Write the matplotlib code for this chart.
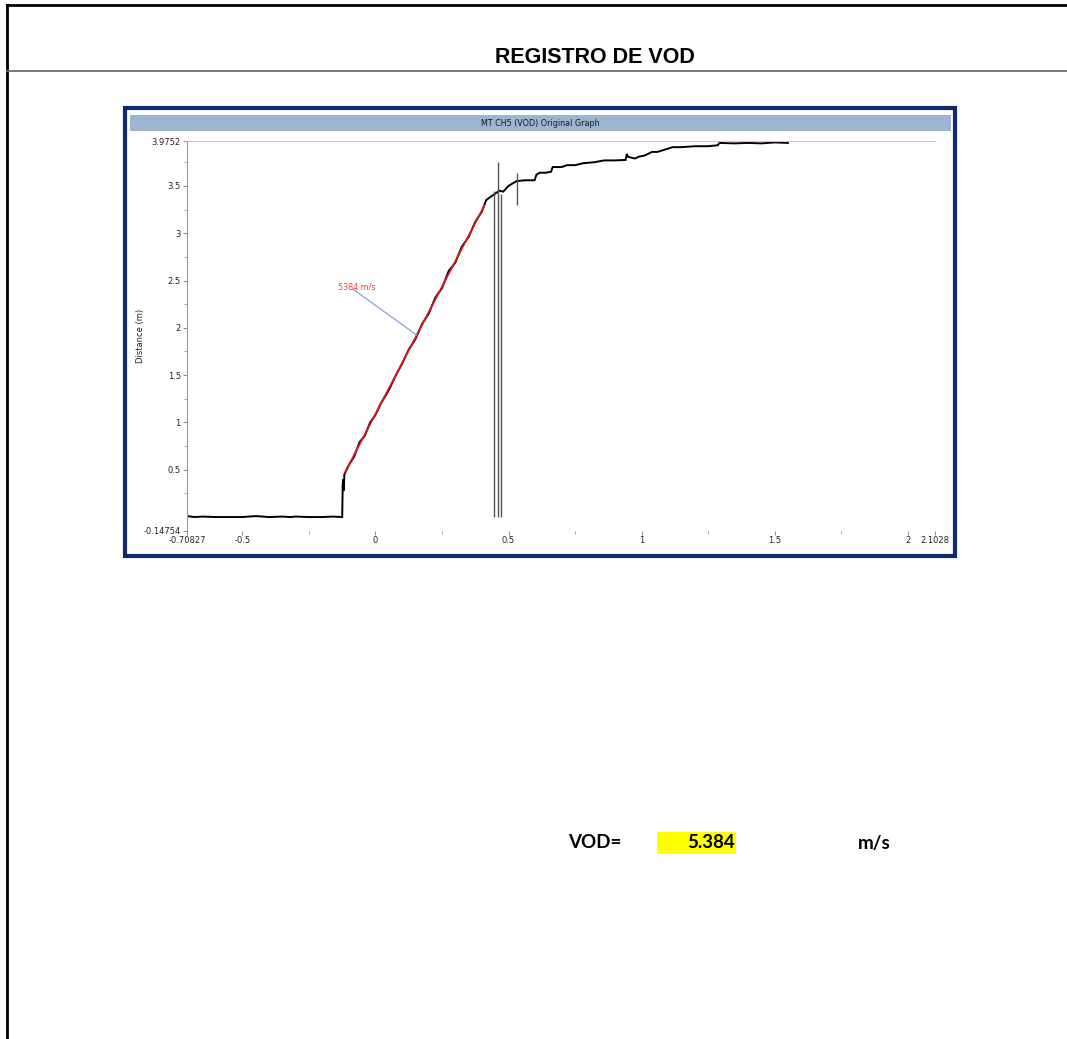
import matplotlib.pyplot as plt
from matplotlib.patches import Rectangle
from matplotlib.lines import Line2D
from matplotlib.ticker import FixedLocator

# trace read from the VOD recorder (time in ms, distance in m)
time_ms = [-0.708, -0.68, -0.65, -0.60, -0.55, -0.50, -0.45, -0.40, -0.35, -0.32,
           -0.30, -0.25, -0.20, -0.16, -0.125, -0.123, -0.121, -0.119, -0.117,
           -0.10, -0.08, -0.06, -0.04, -0.02, 0.0, 0.02, 0.05, 0.075, 0.10, 0.125,
           0.15, 0.175, 0.20, 0.225, 0.25, 0.275, 0.30, 0.325, 0.35, 0.375, 0.40,
           0.416, 0.43, 0.466, 0.48, 0.50, 0.529, 0.56, 0.598, 0.605, 0.617, 0.64,
           0.66, 0.666, 0.70, 0.72, 0.75, 0.78, 0.82, 0.86, 0.90, 0.94, 0.945,
           0.948, 0.96, 0.975, 0.99, 1.01, 1.04, 1.06, 1.117, 1.15, 1.20, 1.25,
           1.286, 1.293, 1.35, 1.40, 1.45, 1.50, 1.55]
dist_m = [0.01, 0.0, 0.005, 0.0, 0.0, 0.0, 0.01, 0.0, 0.005, 0.0,
          0.005, 0.0, 0.0, 0.005, 0.0, 0.35, 0.40, 0.28, 0.45,
          0.55, 0.64, 0.79, 0.86, 1.00, 1.08, 1.20, 1.34, 1.49, 1.62, 1.77,
          1.88, 2.04, 2.15, 2.32, 2.42, 2.60, 2.69, 2.86, 2.96, 3.12, 3.23,
          3.35, 3.38, 3.45, 3.44, 3.50, 3.55, 3.56, 3.56, 3.62, 3.64, 3.64,
          3.65, 3.70, 3.70, 3.72, 3.72, 3.74, 3.75, 3.77, 3.77, 3.775, 3.84,
          3.81, 3.80, 3.79, 3.81, 3.82, 3.86, 3.86, 3.91, 3.91, 3.92, 3.92,
          3.93, 3.955, 3.95, 3.955, 3.95, 3.96, 3.955]

# noise spikes on the trace
spike_t = [0.445, 0.460, 0.470, 0.533]
spike_lo = [0.0, 0.0, 0.0, 3.30]
spike_hi = [3.45, 3.75, 3.42, 3.64]

# VOD fit
vod = 5384  # m/s
fit_t0 = -0.2023
fit_start, fit_end = -0.115, 0.41

xmin, xmax = -0.70827, 2.1028
ymin, ymax = -0.14754, 3.9752
xticks = [-0.70827, -0.5, 0, 0.5, 1, 1.5, 2, 2.1028]
xtick_labels = ["-0.70827", "-0.5", "0", "0.5", "1", "1.5", "2", "2.1028"]
yticks = [-0.14754, 0.5, 1, 1.5, 2, 2.5, 3, 3.5, 3.9752]
ytick_labels = ["-0.14754", "0.5", "1", "1.5", "2", "2.5", "3", "3.5", "3.9752"]

W, H = 1067, 1039
fig = plt.figure(figsize=(W / 100, H / 100), dpi=100)


def fx(px):
    return px / W


def fy(py):
    return 1 - py / H


# page frame
fig.add_artist(Line2D([fx(7), fx(7)], [fy(5), 0], color="black", lw=2))
fig.add_artist(Line2D([fx(7), 1], [fy(5), fy(5)], color="black", lw=2))
fig.add_artist(Line2D([fx(7), 1], [fy(71), fy(71)], color="#6e6e6e", lw=1.3))
fig.text(fx(595), fy(63), "REGISTRO DE VOD", ha="center", va="baseline",
         fontsize=15.5, fontweight="bold", family="Liberation Sans")

# graph panel (kept behind the axes)
fig.add_artist(Rectangle((fx(125), fy(556)), fx(830), fy(108) - fy(556),
                         facecolor="white", edgecolor="#0d2a6b", lw=3, zorder=-5))
fig.add_artist(Rectangle((fx(130), fy(131)), fx(821), fy(115) - fy(131),
                         facecolor="#9db5d2", edgecolor="none", zorder=-4))
fig.text(fx(540), fy(123), "MT CH5 (VOD) Original Graph", ha="center", va="center",
         fontsize=5.8, color="#1a1a1a")

ax = fig.add_axes([fx(187), fy(531), fx(935 - 187), fy(141) - fy(531)])
ax.set_xlim(xmin, xmax)
ax.set_ylim(ymin, ymax)
ax.set_facecolor("none")

ax.plot(time_ms, dist_m, color="black", lw=1.4, solid_joinstyle="miter")
ax.vlines(spike_t, spike_lo, spike_hi, colors="#555555", lw=1.0)

fit_t = [fit_start, fit_end]
fit_d = [vod / 1000 * (t - fit_t0) for t in fit_t]
ax.plot(fit_t, fit_d, color="#e8141c", lw=1.2)

# label for the fit
lab_t = 0.155
ax.plot([-0.085, lab_t], [2.41, vod / 1000 * (lab_t - fit_t0)], color="#7c95e0", lw=0.8)
ax.text(-0.14, 2.43, f"{vod} m/s", color="#ff3b3b", fontsize=5.8, ha="left", va="center")

for side in ["right", "bottom"]:
    ax.spines[side].set_visible(False)
ax.spines["left"].set_color("#9a9a9a")
ax.spines["top"].set_color("#c8c8c8")
ax.spines["left"].set_linewidth(0.8)
ax.spines["top"].set_linewidth(0.8)

ax.set_xticks(xticks)
ax.set_xticklabels(xtick_labels)
ax.set_yticks(yticks)
ax.set_yticklabels(ytick_labels)
ax.xaxis.set_minor_locator(FixedLocator([-0.25, 0.25, 0.75, 1.25, 1.75]))
ax.yaxis.set_minor_locator(FixedLocator([0.25, 0.75, 1.25, 1.75, 2.25, 2.75, 3.25, 3.75]))
ax.tick_params(axis="both", which="major", labelsize=6, labelcolor="#222222",
               length=3, width=0.6, color="#777777", pad=1.5)
ax.tick_params(axis="both", which="minor", length=2, width=0.6, color="#999999")
ax.tick_params(axis="x", which="both", pad=0.5)
ax.set_ylabel("Distance (m)", fontsize=6, color="#222222")
ax.yaxis.set_label_coords(-0.056, 0.5)

# VOD result row
fig.text(fx(568), fy(843), "VOD=", ha="left", va="center", fontsize=13.5,
         fontweight="bold", family="Lato")
fig.add_artist(Rectangle((fx(657), fy(854)), fx(79), fy(832) - fy(854),
                         facecolor="#ffff00", edgecolor="none", zorder=-4))
fig.text(fx(735), fy(843), f"{vod / 1000:.3f}", ha="right", va="center", fontsize=13.5,
         fontweight="bold", family="Lato")
fig.text(fx(858), fy(843), "m/s", ha="left", va="center", fontsize=13.5,
         fontweight="bold", family="Lato")

fig.savefig("out.png", dpi=100)
